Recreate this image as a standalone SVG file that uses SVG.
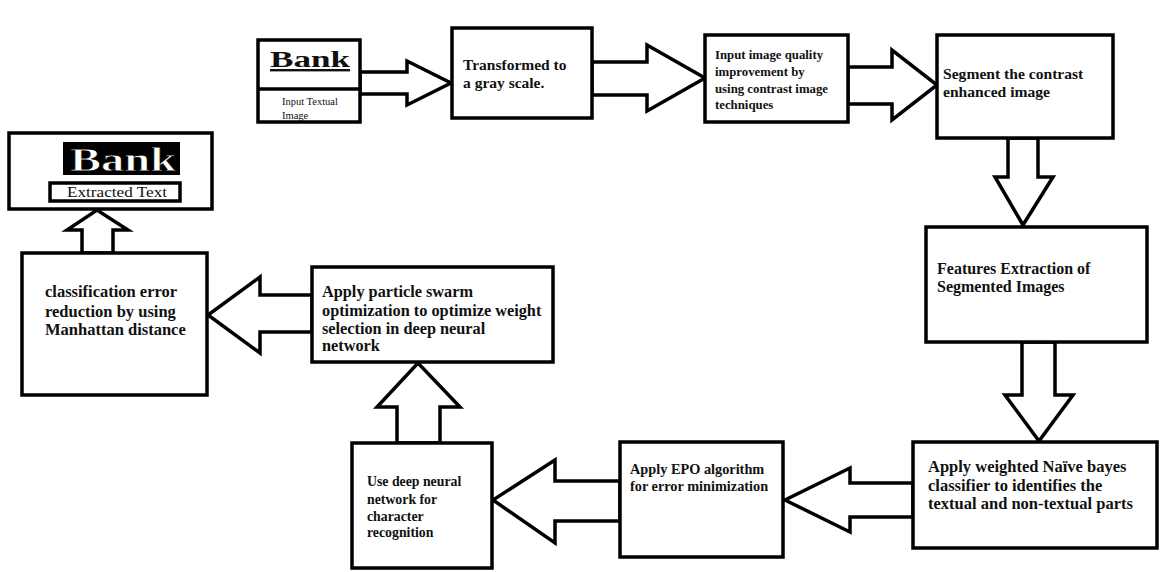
<svg xmlns="http://www.w3.org/2000/svg" width="1161" height="572" viewBox="0 0 1161 572">
<style>
.box{fill:#fff;stroke:#000;stroke-width:3.5}
.arr{fill:#fff;stroke:#000;stroke-width:3.5;stroke-linejoin:miter}
.t{font-family:"Liberation Serif","Times New Roman",serif;font-weight:bold;fill:#111}
</style>
<rect width="1161" height="572" fill="#fff"/>
<g id="connectors">
<polygon class="arr" points="360,72 407,72 407,61 451,83 407,105 407,94 360,94"/>
<polygon class="arr" points="592,62 647,62 647,45 705,78 647,111 647,95 592,95"/>
<polygon class="arr" points="848,67 892,67 892,50 937,85 892,120 892,104 848,104"/>
<polygon class="arr" points="1008,138 1008,177 995,177 1023,225 1053,177 1038,177 1038,138"/>
<polygon class="arr" points="1022,342 1022,395 1005,395 1039,441 1073,395 1055,395 1055,342"/>
<polygon class="arr" points="913,483 850,483 850,468 785,500 850,532 850,517 913,517"/>
<polygon class="arr" points="620,481 555,481 555,460 493,500 555,543 555,521 620,521"/>
<polygon class="arr" points="397,443 397,407 377,407 418,363 460,407 440,407 440,443"/>
<polygon class="arr" points="82,253 82,230 67,230 97,210 128,230 113,230 113,253"/>
<polygon class="arr" points="312,295 260,295 260,277 208,315 260,353 260,332 312,332"/>
</g>
<g id="input-image">
<rect class="box" x="258" y="40" width="102" height="82"/>
<line x1="258" y1="89" x2="360" y2="89" stroke="#000" stroke-width="3.5"/>
<text class="t" x="270" y="67" font-size="24" textLength="80" lengthAdjust="spacingAndGlyphs" text-decoration="underline">Bank</text>
<text x="282" y="105" font-family="Liberation Serif, serif" font-size="10.5" fill="#111">Input Textual</text>
<text x="282" y="119" font-family="Liberation Serif, serif" font-size="10.5" fill="#111">Image</text>
</g>
<g id="gray-scale">
<rect class="box" x="452" y="28" width="140" height="90"/>
<text class="t" font-size="15.5" x="463" y="70">Transformed to</text>
<text class="t" font-size="15.5" x="463" y="88">a gray scale.</text>
</g>
<g id="quality">
<rect class="box" x="705" y="35" width="143" height="87"/>
<text class="t" font-size="12.8" x="715" y="59">Input image quality</text>
<text class="t" font-size="12.8" x="715" y="76">improvement by</text>
<text class="t" font-size="12.8" x="715" y="93">using contrast image</text>
<text class="t" font-size="12.8" x="715" y="109">techniques</text>
</g>
<g id="segment">
<rect class="box" x="937" y="35" width="176" height="103"/>
<text class="t" font-size="15.6" x="943" y="79">Segment the contrast</text>
<text class="t" font-size="15.6" x="943" y="97">enhanced image</text>
</g>
<g id="features">
<rect class="box" x="926" y="227" width="221" height="115"/>
<text class="t" font-size="16" x="937" y="274">Features Extraction of</text>
<text class="t" font-size="16" x="937" y="292">Segmented Images</text>
</g>
<g id="naive-bayes">
<rect class="box" x="913" y="442" width="244" height="106"/>
<text class="t" font-size="16.5" x="928" y="472">Apply weighted Naïve bayes</text>
<text class="t" font-size="16.5" x="928" y="491">classifier to identifies the</text>
<text class="t" font-size="16.5" x="928" y="509">textual and non-textual parts</text>
</g>
<g id="epo">
<rect class="box" x="620" y="442" width="163" height="115"/>
<text class="t" font-size="14.3" x="630" y="474">Apply EPO algorithm</text>
<text class="t" font-size="14.3" x="630" y="491">for error minimization</text>
</g>
<g id="dnn">
<rect class="box" x="352" y="443" width="140" height="125"/>
<text class="t" font-size="13.8" x="367" y="486">Use deep neural</text>
<text class="t" font-size="13.8" x="367" y="504">network for</text>
<text class="t" font-size="13.8" x="367" y="521">character</text>
<text class="t" font-size="13.8" x="367" y="537">recognition</text>
</g>
<g id="pso">
<rect class="box" x="312" y="267" width="241" height="95"/>
<text class="t" font-size="16.3" x="322" y="297">Apply particle swarm</text>
<text class="t" font-size="16.3" x="322" y="316">optimization to optimize weight</text>
<text class="t" font-size="16.3" x="322" y="334">selection in deep neural</text>
<text class="t" font-size="16.3" x="322" y="351">network</text>
</g>
<g id="manhattan">
<rect class="box" x="22" y="253" width="185" height="142"/>
<text class="t" font-size="16.5" x="45" y="297">classification error</text>
<text class="t" font-size="16.5" x="45" y="317">reduction by using</text>
<text class="t" font-size="16.5" x="45" y="335">Manhattan distance</text>
</g>
<g id="extracted">
<rect class="box" x="9" y="133" width="203" height="76"/>
<rect x="63" y="142" width="117" height="33" fill="#000"/>
<text x="70" y="171" font-family="Liberation Serif, serif" font-size="34" font-weight="bold" fill="#fff" stroke="#000" stroke-width="0.8" textLength="106" lengthAdjust="spacingAndGlyphs">Bank</text>
<rect x="50" y="183" width="130" height="18" fill="#fff" stroke="#000" stroke-width="3.5"/>
<text x="67" y="197" font-family="Liberation Serif, serif" font-size="14" fill="#111" textLength="100" lengthAdjust="spacingAndGlyphs">Extracted Text</text>
</g>
</svg>
